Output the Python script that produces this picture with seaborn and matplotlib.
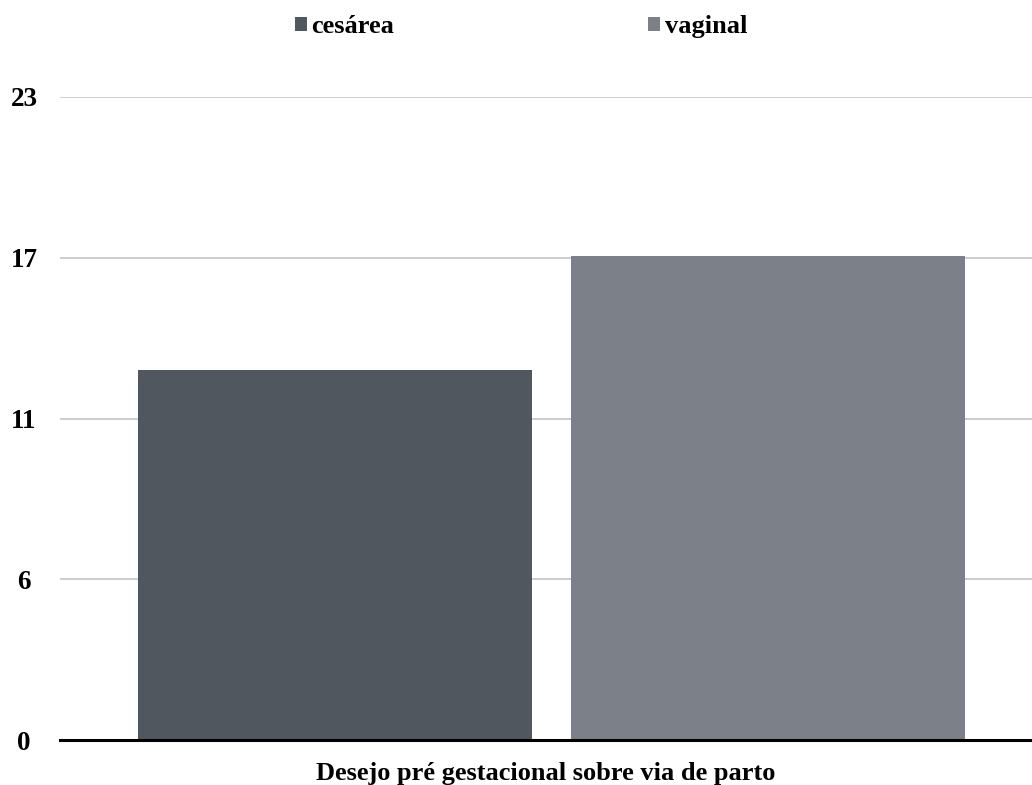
import matplotlib
matplotlib.use("Agg")
import matplotlib.pyplot as plt
from matplotlib.patches import Patch
import seaborn as sns
import pandas as pd

# Data
category = ["Desejo pré gestacional sobre via de parto"]
series = ["cesárea", "vaginal"]
values = [13, 17]
colors = ["#50575f", "#7b8089"]
tick_values = [0, 5.65, 11.3, 16.95, 22.6]
tick_labels = ["0", "6", "11", "17", "23"]

df = pd.DataFrame({"cat": category * len(series), "serie": series, "val": values})

sns.set_theme(style="white")
plt.rcParams["font.family"] = ["Liberation Serif", "DejaVu Serif"]
plt.rcParams["font.weight"] = "bold"
plt.rcParams["text.color"] = "black"
plt.rcParams["ytick.color"] = "black"
plt.rcParams["axes.labelcolor"] = "black"

fig = plt.figure(figsize=(10.32, 7.85), dpi=100)
ax = fig.add_axes([60 / 1032, 45 / 785, 1 - 60 / 1032, (740 - 97) / 785])

sns.barplot(data=df, x="cat", y="val", hue="serie", palette=colors,
            hue_order=series, gap=0.09, width=0.8, ax=ax, legend=False,
            saturation=1, edgecolor="none", linewidth=0, zorder=3)

ax.set_xlim(-0.454, 0.444)
ax.set_ylim(0, 22.6)
ax.set_yticks(tick_values)
ax.set_yticklabels(tick_labels, fontsize=19.5, fontweight="bold", color="black")
ax.set_xticks([])
ax.yaxis.grid(True, color="#c9c9c9", linewidth=1.3, zorder=0)
ax.tick_params(axis="y", length=0, pad=0)
for s in ["top", "right", "left"]:
    ax.spines[s].set_visible(False)
ax.spines["bottom"].set_color("black")
ax.spines["bottom"].set_linewidth(2.2)
ax.spines["bottom"].set_zorder(5)
ax.set_ylabel("")
ax.set_xlabel(category[0], fontsize=19, fontweight="bold", labelpad=16, color="black")
for lbl in ax.get_yticklabels():
    lbl.set_horizontalalignment("center")
    lbl.set_x(-(60 - 24) / 972)

handles = [Patch(facecolor=c, edgecolor="none") for c in colors]
fig.legend(handles, series, loc="center", bbox_to_anchor=(521 / 1032, 1 - 26.5 / 785),
           ncol=2, frameon=False, prop={"size": 19, "weight": "bold"},
           handlelength=0.45, handleheight=0.45, handletextpad=0.18,
           columnspacing=9.63)

fig.savefig("out.png", dpi=100)
